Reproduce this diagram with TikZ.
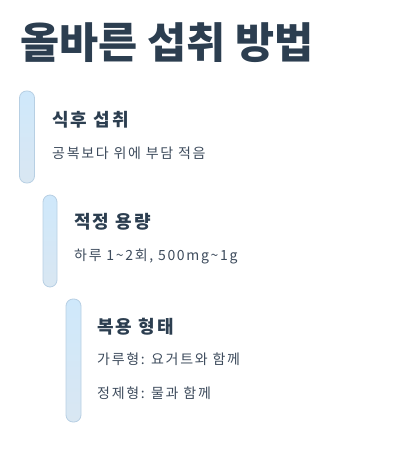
\documentclass[tikz,border=0pt]{standalone}
\usepackage{fontspec}
\setmainfont{Noto Sans CJK KR}
\newfontfamily\spacedfont[LetterSpace=12]{Noto Sans CJK KR}
\usepackage{xcolor}
\definecolor{inkdark}{HTML}{2C3E50}
\definecolor{inkbody}{HTML}{3D4B5C}
\definecolor{bartop}{HTML}{CFE8FB}
\definecolor{barbottom}{HTML}{D9E7F2}
\definecolor{barline}{HTML}{B7CFE3}

\begin{document}
\begin{tikzpicture}[
        x=1pt, y=-1pt,
        bar/.style={rectangle, draw=barline, line width=0.8pt, rounded corners=7pt,
            top color=bartop, bottom color=barbottom, minimum width=15pt, inner sep=0pt},
        title/.style={anchor=west, inner sep=0pt, text=inkdark, font=\fontsize{42.5}{50}\selectfont\bfseries},
        head/.style={anchor=west, inner sep=0pt, text=inkdark, font=\spacedfont\fontsize{18}{21}\selectfont\bfseries},
        body/.style={anchor=west, inner sep=0pt, text=inkbody, font=\spacedfont\fontsize{14}{17}\selectfont}
    ]
        \useasboundingbox (0,0) rectangle (411,449);
        \node[title] (T) at (20,43) {올바른 섭취 방법};

        \node[bar, minimum height=92pt] (B1) at (27,137) {};
        \node[head] (H1) at (52,120) {식후 섭취};
        \node[body] (D1) at (52,153) {공복보다 위에 부담 적음};

        \node[bar, minimum width=14pt, minimum height=92pt] (B2) at (50,241) {};
        \node[head] (H2) at (74,222) {적정 용량};
        \node[body] (D2) at (74,256) {하루 1\textasciitilde2회, 500mg\textasciitilde1g};

        \node[bar, minimum height=123pt] (B3) at (73.5,360.5) {};
        \node[head] (H3) at (97,327) {복용 형태};
        \node[body] (D3) at (97,359) {가루형: 요거트와 함께};
        \node[body] (D4) at (97,393) {정제형: 물과 함께};
    \end{tikzpicture}
\end{document}
